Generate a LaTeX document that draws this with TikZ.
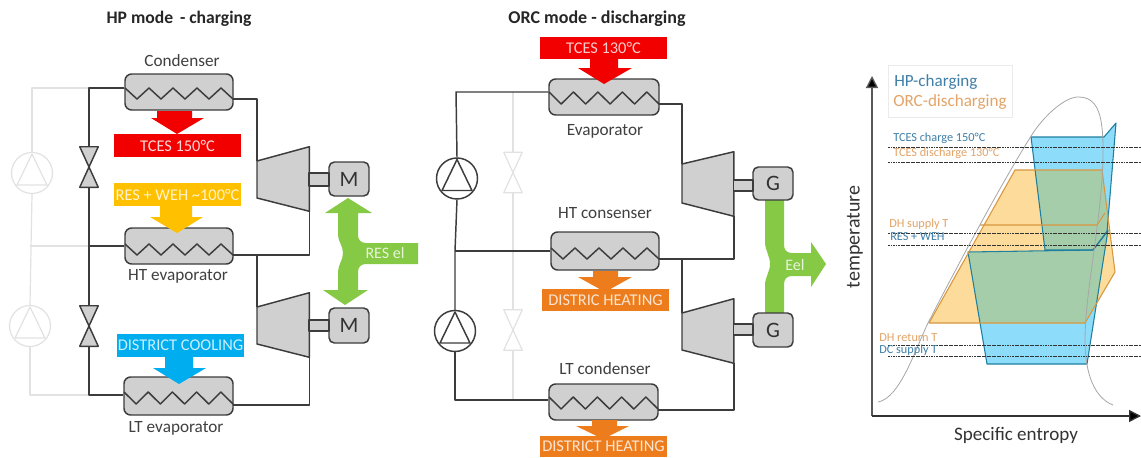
\documentclass[tikz,border=0pt]{standalone}
\usepackage{fontspec}
\setmainfont{Carlito}
\usetikzlibrary{arrows.meta}
\definecolor{pipec}{HTML}{3C3C3C}
\definecolor{ghost}{HTML}{E2E2E2}
\definecolor{boxf}{HTML}{D0D0D0}
\definecolor{tcesred}{HTML}{F20000}
\definecolor{resy}{HTML}{FFC000}
\definecolor{dcblue}{HTML}{00ADEF}
\definecolor{dhor}{HTML}{ED7D1C}
\definecolor{elgreen}{HTML}{85C944}
\definecolor{hpblue}{HTML}{3F7FA8}
\definecolor{orcor}{HTML}{E2A468}
\definecolor{edgeb}{HTML}{1F7F9F}
\definecolor{edgeo}{HTML}{D9963F}
\definecolor{cycb}{HTML}{8CDCFA}
\definecolor{cyco}{HTML}{FDDC9B}
\definecolor{cycg}{HTML}{A6CDAA}
\def\px{0.75pt}
\tikzset{
  x=0.75pt,y=-0.75pt,
  pipe/.style={draw=pipec,line width=1.1pt,line join=round},
  ghostpipe/.style={draw=ghost,line width=0.9pt,line join=round},
  hx/.style={draw=pipec,fill=boxf,line width=1.1pt,rounded corners=5pt,inner sep=0pt},
  machine/.style={draw=pipec,fill=boxf,line width=1.1pt,rounded corners=4pt,inner sep=0pt,minimum width=40*\px,font=\fontsize{16.5}{18}\selectfont,text=black!80},
  lbl/.style={inner sep=0pt,text=black!75,font=\fontsize{12.9}{14}\selectfont},
  bandtext/.style={inner sep=0pt,font=\fontsize{12.3}{14}\selectfont},
  smalltxt/.style={inner sep=0pt,anchor=west,font=\fontsize{9.2}{10}\selectfont},
  pumpn/.style={circle,draw=pipec,line width=1.1pt,fill=white,inner sep=0pt,minimum size=41*\px},
  ghostpump/.style={circle,draw=ghost,line width=0.9pt,fill=white,inner sep=0pt,minimum size=41*\px},
  valvebox/.style={inner sep=0pt,minimum width=18*\px,minimum height=40*\px},
  turbbox/.style={inner sep=0pt,minimum width=52*\px,minimum height=64*\px},
  levelline/.style={draw=black!80,line width=0.7pt,dash pattern=on 1.4pt off 0.5pt},
}
% zigzag coil: x0, y high, x1, y low
\newcommand\coil[4]{\draw[pipe] (#1,#2) \foreach \i in {1,...,9}{ -- ({#1+(#3-#1)*\i/9},{#2+(#4-#2)*mod(\i,2)}) };}
% block arrow: colour, shaft x0, x1, y0, y1, head x0, x1, tip x, tip y
\newcommand\blockarrow[9]{\fill[#1] (#2,#4) -- (#3,#4) -- (#3,#5) -- (#7,#5) -- (#8,#9) -- (#6,#5) -- (#2,#5) -- cycle;}
\newcommand\valveshape[2]{\draw[#2] (#1.north west) -- (#1.north east) -- (#1.south west) -- (#1.south east) -- cycle;}
\newcommand\pumptri[3]{\draw[#3] (#1,{#2-19}) -- ({#1+15},{#2+12}) -- ({#1-15},{#2+12}) -- cycle;}
\newcommand\cycUp{(1031,137) -- (1104,137) -- (1116,123) -- (1107,232) -- (1093,250) -- (1045,250) -- cycle}
\newcommand\cycLow{(968,252) -- (1093,250) -- (1108,230) -- (1087,364) -- (987,364) -- cycle}
\newcommand\cycOrc{(1015,170) -- (1102,170) -- (1115,272) -- (1085,323) -- (929,323) -- cycle}
\begin{document}
\begin{tikzpicture}
\useasboundingbox (0,0) rectangle (1141,457);
\fill[white] (0,0) rectangle (1141,457);

%% ================= HP mode
\node[inner sep=0pt,font=\bfseries\fontsize{13.2}{15}\selectfont,text=black!85] (titleA) at (179,19) {HP mode\, - charging};

% green electric arrow (behind machines)
\fill[elgreen] (348,198) -- (372,213) -- (358,213) -- (358,235) .. controls (358,240) and (361,243) .. (366,243) -- (418,243) -- (418,264) -- (366,264) .. controls (361,264) and (358,267) .. (358,272) -- (358,290) -- (368,290) -- (345,305) -- (323,290) -- (338,290) -- (338,272) .. controls (338,265) and (343,260) .. (343,253) .. controls (343,246) and (338,241) .. (338,235) -- (338,213) -- (325,213) -- cycle;
\node[inner sep=0pt,text=white!80!elgreen,font=\fontsize{12}{14}\selectfont] (resel) at (385,253) {RES el};

% ghost pump branch
\node[ghostpump] (gp1) at (32,173) {};
\node[ghostpump] (gp2) at (30,326) {};
\coordinate (ga) at (89,88);
\coordinate (gb) at (89,246);
\coordinate (gc) at (89,395);
\draw[ghostpipe] (ga) -| (gp1.north);
\draw[ghostpipe] (gp1.south) -- (gp2.north);
\draw[ghostpipe] (gb) -- (30,246);
\draw[ghostpipe] (gp2.south) |- (gc);
\pumptri{32}{173}{ghostpipe}
\pumptri{30}{326}{ghostpipe}

% exchangers
\node[hx,minimum width=108*\px,minimum height=36*\px] (cond) at (179,92) {};
\node[hx,minimum width=108*\px,minimum height=36*\px] (htev) at (179,246) {};
\node[hx,minimum width=109*\px,minimum height=38*\px] (ltev) at (178.5,396) {};
\coil{125}{88}{233}{99}
\coil{125}{244}{233}{255}
\coil{124}{392}{233}{404}

% valves
\node[valvebox] (v1) at (89,167) {};
\node[valvebox] (v2) at (89,326) {};

% turbomachines
\node[turbbox] (c1) at (283,179) {};
\node[turbbox] (c2) at (283,325) {};
\coordinate (c1in) at (257,161);
\coordinate (c1bl) at (257,198);
\coordinate (c2in) at (257,307);
\coordinate (c2bl) at (257,344);
\node[machine,minimum height=34*\px] (m1) at (349,179) {M};
\node[machine,minimum height=35*\px] (m2) at (349,325.5) {M};

% pipes
\draw[pipe] (cond.west |- ga) -- (ga) -- (v1.north);
\draw[pipe] (v1.south) -- (v2.north);
\draw[pipe] (htev.west |- gb) -- (gb);
\draw[pipe] (v2.south) |- (ltev.west |- gc);
\coordinate (cout) at (233,99);
\coordinate (hout) at (233,255);
\coordinate (lout) at (233,405);
\draw[pipe] (cout) -| (c1in);
\draw[pipe] (c1.south east) |- (hout);
\draw[pipe] (c2in) -- (c2in |- hout);
\draw[pipe] (c2.south east) |- (lout);

\valveshape{v1}{pipe,fill=boxf}
\valveshape{v2}{pipe,fill=boxf}
\draw[pipe,fill=boxf] (c1in) -- (c1.north east) -- (c1.south east) -- (c1bl) -- cycle;
\draw[pipe,fill=boxf] (c2in) -- (c2.north east) -- (c2.south east) -- (c2bl) -- cycle;
\draw[pipe,fill=boxf] (309,173) rectangle (329,186);
\draw[pipe,fill=boxf] (309,320) rectangle (329,331);

% heat bands
\node[fill=tcesred,minimum width=127*\px,minimum height=23*\px,bandtext,text=white!85!tcesred] (b1) at (177.5,145.5) {TCES 150°C};
\node[fill=resy,minimum width=127*\px,minimum height=23*\px,bandtext,text=white!80!resy] (b2) at (177.5,194.5) {RES + WEH \textasciitilde100°C};
\node[fill=dcblue,minimum width=127*\px,minimum height=23*\px,bandtext,text=white!80!dcblue] (b3) at (180.5,345.5) {DISTRICT COOLING};
\blockarrow{tcesred}{157}{192}{111}{118}{151}{204}{177}{134}
\blockarrow{resy}{160}{192}{206}{217}{150}{203}{177}{233}
\blockarrow{dcblue}{165}{193}{357}{368}{153}{206}{179}{384}

\node[lbl] (lcond) at (182,61) {Condenser};
\node[lbl] (lht) at (178,276) {HT evaporator};
\node[lbl] (llt) at (176,428) {LT evaporator};

%% ================= ORC mode
\node[inner sep=0pt,font=\bfseries\fontsize{13.5}{15}\selectfont,text=black!85] (titleB) at (597,19) {ORC mode - discharging};

% green arrow
\fill[elgreen] (765,198) -- (784,198) -- (784,245) .. controls (784,250) and (787,253) .. (792,253) -- (811,253) -- (811,242) -- (826,264) -- (811,287) -- (811,276) -- (792,276) .. controls (787,276) and (784,279) .. (784,284) -- (784,315) -- (765,315) -- (765,285) .. controls (765,277) and (770,272) .. (770,264) .. controls (770,256) and (765,250) .. (765,242) -- cycle;
\node[inner sep=0pt,text=white!80!elgreen,font=\fontsize{12}{14}\selectfont] (eel) at (795,265) {Eel};

% ghost valve line
\coordinate (gd) at (513,92);
\coordinate (ge) at (513,400);
\draw[ghostpipe] (gd) -- (ge);
\node[valvebox] (v3) at (513,172.5) {};
\node[valvebox] (v4) at (513,330) {};
\valveshape{v3}{ghostpipe,fill=white}
\valveshape{v4}{ghostpipe,fill=white}

% exchangers
\node[hx,minimum width=110*\px,minimum height=36*\px] (evap) at (604,97) {};
\node[hx,minimum width=108*\px,minimum height=38*\px] (htc) at (605,251) {};
\node[hx,minimum width=109*\px,minimum height=36*\px] (ltc) at (603.5,402) {};
\coil{549}{92}{659}{104}
\coil{551}{248}{659}{259}
\coil{549}{397}{658}{409}

% pumps
\node[pumpn] (p1) at (457,178.5) {};
\node[pumpn] (p2) at (455,331) {};
\pumptri{457}{178.5}{pipe}
\pumptri{455}{331}{pipe}

% turbines
\node[turbbox] (t1) at (707.5,184) {};
\node[turbbox] (t2) at (707.5,331) {};
\coordinate (t1in) at (682,164);
\coordinate (t1bl) at (682,203);
\coordinate (t2in) at (682,313);
\coordinate (t2bl) at (682,350);
\node[machine,minimum height=33*\px] (g1) at (773,183.5) {G};
\node[machine,minimum height=34*\px] (g2) at (773,330) {G};

% pipes
\coordinate (jm) at (455,251);
\coordinate (ein) at (456,92);
\coordinate (lin) at (455,400);
\coordinate (eout) at (659,104);
\coordinate (hcout) at (659,259);
\coordinate (lcout) at (658,410);
\draw[pipe] (evap.west |- ein) -- (ein) -- (p1.north);
\draw[pipe] (p1.south) -- (jm) -- (p2.north);
\draw[pipe] (htc.west |- jm) -- (jm);
\draw[pipe] (p2.south) |- (ltc.west |- lin);
\draw[pipe] (eout) -| (t1in);
\draw[pipe] (t1.south east) |- (hcout);
\draw[pipe] (t2in) -- (t2in |- hcout);
\draw[pipe] (t2.south east) |- (lcout);

\draw[pipe,fill=boxf] (t1in) -- (t1.north east) -- (t1.south east) -- (t1bl) -- cycle;
\draw[pipe,fill=boxf] (t2in) -- (t2.north east) -- (t2.south east) -- (t2bl) -- cycle;
\draw[pipe,fill=boxf] (733.5,180) rectangle (753,191);
\draw[pipe,fill=boxf] (733.5,324) rectangle (753,335);

% bands
\node[fill=tcesred,minimum width=127*\px,minimum height=22*\px,bandtext,text=white!80!tcesred] (b4) at (603.5,48) {TCES 130°C};
\blockarrow{tcesred}{590}{618}{59}{68}{578}{632}{604}{84}
\node[fill=dhor,minimum width=127*\px,minimum height=22*\px,bandtext,text=white!80!dhor] (b5) at (605.5,300) {DISTRIC HEATING};
\blockarrow{dhor}{593}{618}{271}{277}{578}{632}{605}{292}
\node[fill=dhor,minimum width=127*\px,minimum height=21*\px,bandtext,text=white!80!dhor] (b6) at (603.5,446.5) {DISTRICT HEATING};
\blockarrow{dhor}{592}{617}{420}{426}{576}{629}{603}{439}

\node[lbl] (levap) at (605,131) {Evaporator};
\node[lbl] (lhtc) at (605,213) {HT consenser};
\node[lbl] (lltc) at (605,369) {LT condenser};

%% ================= T-s diagram
\node[draw=black!8,line width=0.6pt,minimum width=124*\px,minimum height=52*\px,inner sep=0pt] (legend) at (950,91) {};
\node[inner sep=0pt,anchor=west,text=hpblue,font=\fontsize{12.8}{14}\selectfont] (lhp) at (894,82) {HP-charging};
\node[inner sep=0pt,anchor=west,text=orcor,font=\fontsize{12.8}{14}\selectfont] (lorc) at (893,102) {ORC-discharging};

% cycles
\fill[cycb] \cycUp;
\fill[cycb] \cycLow;
\fill[cyco] \cycOrc;
\begin{scope}
  \clip \cycOrc;
  \fill[cycg] \cycUp;
  \fill[cycg] \cycLow;
\end{scope}
\draw[edgeb,line width=0.8pt,line join=round] \cycUp;
\draw[edgeb,line width=0.8pt,line join=round] \cycLow;
\draw[edgeo,line width=0.8pt,line join=round] \cycOrc;
\draw[edgeo,line width=0.8pt] (980,225) -- (1097,225) -- (1105,213);

% saturation dome
\draw[black!35,line width=0.6pt] (878,402) .. controls (900,398) and (915,350) .. (928,323) .. controls (950,280) and (1000,185) .. (1033,133) .. controls (1045,115) and (1065,97) .. (1078,97) .. controls (1098,97) and (1103,115) .. (1103,150) .. controls (1103,215) and (1085,290) .. (1085,340) .. controls (1085,375) and (1095,398) .. (1113,405);

% level lines
\foreach \yy in {147,162,233,245,345,356}{
  \coordinate (la\yy) at (888,\yy);
  \coordinate (lb\yy) at (1141,\yy);
  \draw[levelline] (la\yy) -- (lb\yy);
}
\node[smalltxt,text=hpblue] (s1) at (893,138) {TCES charge 150°C};
\node[smalltxt,text=orcor] (s2) at (893,153) {TCES discharge 130°C};
\node[smalltxt,text=orcor] (s3) at (889,224) {DH supply T};
\node[smalltxt,text=hpblue] (s4) at (890,237) {RES + WEH};
\node[smalltxt,text=orcor] (s5) at (879,338) {DH return T};
\node[smalltxt,text=hpblue] (s6) at (879,350) {DC supply T};

% axes
\coordinate (origin) at (872,416);
\coordinate (ytip) at (872,76);
\coordinate (xtip) at (1141,416);
\draw[black!65,line width=1pt,-{Triangle[length=9pt,width=9pt,fill=black]}] (origin) -- (ytip);
\draw[black!80,line width=1pt,-{Triangle[length=9pt,width=9pt,fill=black]}] (origin) -- (xtip);
\node[inner sep=0pt,rotate=90,text=black!80,font=\fontsize{15}{16}\selectfont] (ylab) at (855,237) {temperature};
\node[inner sep=0pt,text=black!80,font=\fontsize{14.3}{16}\selectfont] (xlab) at (1016,435) {Specific entropy};
\end{tikzpicture}
\end{document}
